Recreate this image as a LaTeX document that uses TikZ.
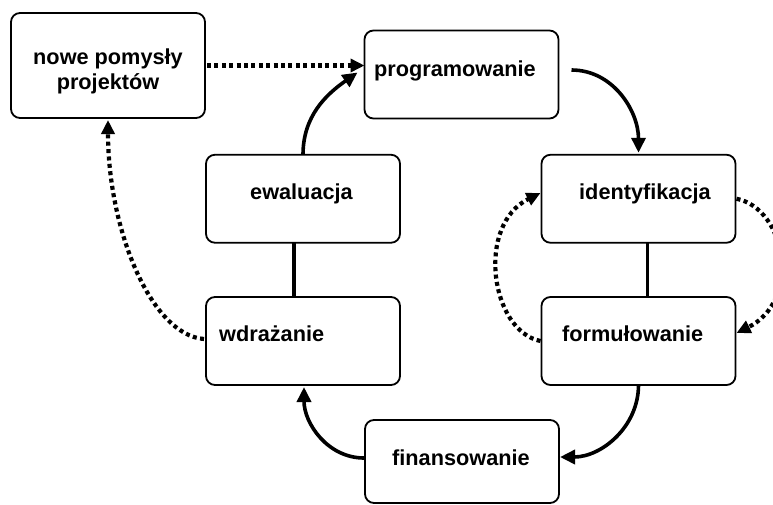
\documentclass[tikz,border=0pt]{standalone}
\usepackage{fontspec}
\setmainfont{Liberation Sans}
\usetikzlibrary{arrows.meta}
\begin{document}
\begin{tikzpicture}[x=1pt,y=-1pt,
  box/.style={draw, line width=1.8pt, rounded corners=9pt, minimum width=194pt, minimum height=88pt, inner sep=0pt, outer sep=0pt},
  lbl/.style={anchor=base west, inner sep=0pt, font=\fontsize{21.7}{25}\selectfont\bfseries},
  clbl/.style={anchor=base, inner sep=0pt, font=\fontsize{21.7}{25}\selectfont\bfseries},
  solarr/.style={line width=3.6pt, -{Triangle[length=15pt,width=14pt]}},
  conn/.style={line width=3.4pt},
  dotarr/.style={line width=4.2pt, dash pattern=on 4pt off 3.4pt, -{Triangle[length=14pt,width=13pt]}}
]
\useasboundingbox (0,0) rectangle (773,504);

% boxes
\node[box, minimum height=105pt] (nowe) at (108,65.5) {};
\node[box] (prog) at (461.5,74.5) {};
\node[box] (ident) at (638.5,198.75) {};
\node[box] (form) at (638.5,341) {};
\node[box] (ewal) at (303,198.75) {};
\node[box] (wdraz) at (303,341) {};
\node[box, minimum height=83pt] (finans) at (462,461.5) {};

% labels
\node[clbl] (t1a) at (108,64) {nowe pomysły};
\node[clbl] (t1b) at (108,89) {projektów};
\node[lbl] (t2) at (374,76) {programowanie};
\node[lbl] (t3) at (579,199) {identyfikacja};
\node[lbl] (t4) at (562,341) {formułowanie};
\node[lbl] (t5) at (250,199) {ewaluacja};
\node[lbl] (t6) at (219,341) {wdrażanie};
\node[lbl] (t7) at (392,465) {finansowanie};

% connectors
\draw[dotarr] ([xshift=2pt]nowe.east) -- (nowe.east -| prog.west);
\draw[solarr] ([xshift=13pt,yshift=4.5pt]prog.east) to[out=0,in=90] ([yshift=2pt]ident.north);
\draw[conn] ([xshift=9pt]ident.south) -- ([xshift=9pt]form.north);
\draw[solarr] (form.south) to[out=-90,in=0] ([xshift=1pt,yshift=4.5pt]finans.east);
\draw[solarr] ([xshift=-1pt,yshift=3.5pt]finans.west) to[out=180,in=-90] ([xshift=1pt,yshift=-2pt]wdraz.south);
\draw[conn] ([xshift=-9pt]ewal.south) -- ([xshift=-9pt]wdraz.north);
\draw[solarr] (ewal.north) to[out=90,in=-145] ([xshift=-7pt,yshift=2pt]prog.west);
\draw[dotarr] ([xshift=-2pt,yshift=2pt]wdraz.west) .. controls +(-53,-4) and +(0,109) .. ([yshift=-2pt]nowe.south);
\draw[dotarr] ([xshift=-1pt]form.west) .. controls +(-50,-10) and +(-65,32) .. ([xshift=-1pt,yshift=5.75pt]ident.west);
\draw[dotarr] ([xshift=1pt]ident.east) .. controls +(50,10) and +(65,-32) .. ([xshift=1pt,yshift=8pt]form.east);
\end{tikzpicture}
\end{document}
